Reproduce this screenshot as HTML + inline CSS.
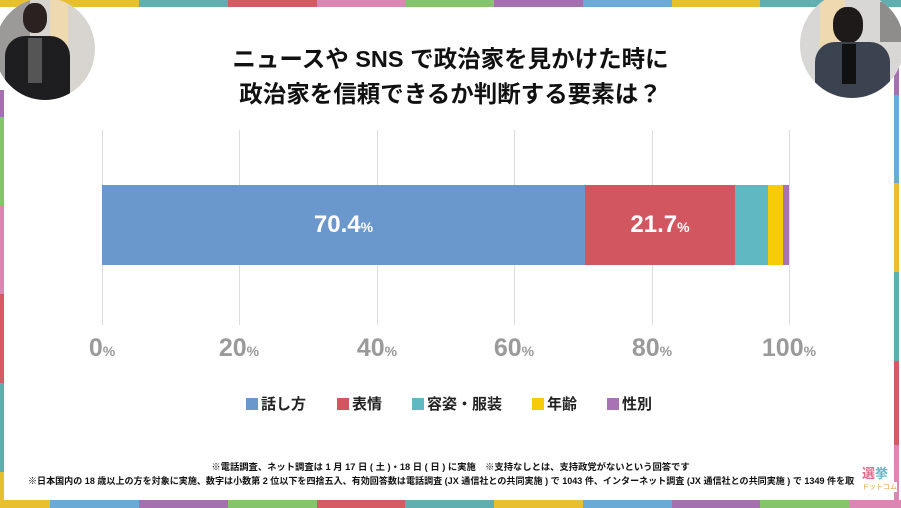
<!DOCTYPE html>
<html><head><meta charset="utf-8"><style>
*{margin:0;padding:0;box-sizing:border-box}
body{width:901px;height:508px;background:#fff;position:relative;overflow:hidden;font-family:"Liberation Sans","Noto Sans CJK JP",sans-serif}
.a{position:absolute}
.t{position:absolute;left:0;width:901px;text-align:center;font-weight:bold;color:#111}
.tick{position:absolute;top:334px;width:100px;margin-left:-50px;text-align:center;font-size:25px;font-weight:bold;color:#9a9a9a}
.tick small{font-size:14px}
.leg{position:absolute;top:393px;font-size:15px;font-weight:bold;color:#222;white-space:nowrap}
.leg i{display:inline-block;width:12px;height:12px;margin-right:3px;vertical-align:-1px}
</style></head><body>
<div class="a" style="top:0;left:0;width:139px;height:7px;background:#e8c02f"></div>
<div class="a" style="top:0;left:139px;width:89px;height:7px;background:#5fafb0"></div>
<div class="a" style="top:0;left:228px;width:89px;height:7px;background:#d65a64"></div>
<div class="a" style="top:0;left:317px;width:88px;height:7px;background:#dc86b4"></div>
<div class="a" style="top:0;left:405px;width:89px;height:7px;background:#86c46c"></div>
<div class="a" style="top:0;left:494px;width:89px;height:7px;background:#a56fb0"></div>
<div class="a" style="top:0;left:583px;width:89px;height:7px;background:#6aaad6"></div>
<div class="a" style="top:0;left:672px;width:88px;height:7px;background:#e8c02f"></div>
<div class="a" style="top:0;left:760px;width:141px;height:7px;background:#5fafb0"></div>
<div class="a" style="left:0;top:90px;width:4px;height:27px;background:#a56fb0"></div>
<div class="a" style="left:0;top:117px;width:4px;height:89px;background:#86c46c"></div>
<div class="a" style="left:0;top:206px;width:4px;height:88px;background:#dc86b4"></div>
<div class="a" style="left:0;top:294px;width:4px;height:89px;background:#d65a64"></div>
<div class="a" style="left:0;top:383px;width:4px;height:89px;background:#5fafb0"></div>
<div class="a" style="left:0;top:472px;width:4px;height:36px;background:#e8c02f"></div>
<div class="a" style="left:894px;top:60px;width:5px;height:35px;background:#a56fb0"></div>
<div class="a" style="left:894px;top:95px;width:5px;height:88px;background:#6aaad6"></div>
<div class="a" style="left:894px;top:183px;width:5px;height:89px;background:#e8c02f"></div>
<div class="a" style="left:894px;top:272px;width:5px;height:89px;background:#5fafb0"></div>
<div class="a" style="left:894px;top:361px;width:5px;height:84px;background:#d65a64"></div>
<div class="a" style="left:894px;top:445px;width:5px;height:55px;background:#dc86b4"></div>
<div class="a" style="top:500px;left:0;width:50px;height:8px;background:#e8c02f"></div>
<div class="a" style="top:500px;left:50px;width:89px;height:8px;background:#6aaad6"></div>
<div class="a" style="top:500px;left:139px;width:89px;height:8px;background:#a56fb0"></div>
<div class="a" style="top:500px;left:228px;width:89px;height:8px;background:#86c46c"></div>
<div class="a" style="top:500px;left:317px;width:88px;height:8px;background:#d65a64"></div>
<div class="a" style="top:500px;left:405px;width:89px;height:8px;background:#5fafb0"></div>
<div class="a" style="top:500px;left:494px;width:89px;height:8px;background:#e8c02f"></div>
<div class="a" style="top:500px;left:583px;width:89px;height:8px;background:#6aaad6"></div>
<div class="a" style="top:500px;left:672px;width:88px;height:8px;background:#a56fb0"></div>
<div class="a" style="top:500px;left:760px;width:89px;height:8px;background:#86c46c"></div>
<div class="a" style="top:500px;left:849px;width:52px;height:8px;background:#dc86b4"></div>
<div class="a" style="left:-5px;top:-2px;width:100px;height:102px;border-radius:50%;background:#d8d4cf;overflow:hidden">
 <div class="a" style="left:5px;top:0;width:30px;height:100px;background:#9c9a98"></div>
 <div class="a" style="left:55px;top:0;width:18px;height:50px;background:#efd9b0"></div>
 <div class="a" style="left:28px;top:5px;width:24px;height:30px;border-radius:45%;background:#2a2220"></div>
 <div class="a" style="left:10px;top:38px;width:65px;height:70px;border-radius:20px 20px 0 0;background:#1e1d1f"></div>
 <div class="a" style="left:33px;top:40px;width:14px;height:45px;background:#555"></div>
</div>
<div class="a" style="left:800px;top:-8px;width:104px;height:106px;border-radius:50%;background:#d9d7d5;overflow:hidden">
 <div class="a" style="left:20px;top:0;width:25px;height:60px;background:#efd9b0"></div>
 <div class="a" style="left:80px;top:10px;width:24px;height:40px;background:#8e8d8c"></div>
 <div class="a" style="left:33px;top:15px;width:30px;height:36px;border-radius:45%;background:#1e1a1a"></div>
 <div class="a" style="left:15px;top:50px;width:75px;height:60px;border-radius:20px 20px 0 0;background:#3c4350"></div>
 <div class="a" style="left:42px;top:52px;width:14px;height:40px;background:#111"></div>
</div>
<div class="t" style="top:44px;font-size:23.5px;line-height:30px">ニュースや SNS で政治家を見かけた時に</div>
<div class="t" style="top:79px;font-size:23.5px;line-height:30px">政治家を信頼できるか判断する要素は？</div>
<div class="a" style="left:102px;top:130px;width:1px;height:195px;background:#ddd"></div>
<div class="a" style="left:239px;top:130px;width:1px;height:195px;background:#ddd"></div>
<div class="a" style="left:377px;top:130px;width:1px;height:195px;background:#ddd"></div>
<div class="a" style="left:514px;top:130px;width:1px;height:195px;background:#ddd"></div>
<div class="a" style="left:652px;top:130px;width:1px;height:195px;background:#ddd"></div>
<div class="a" style="left:789px;top:130px;width:1px;height:195px;background:#ddd"></div>
<div class="a" style="left:102px;top:185px;width:483px;height:80px;background:#6b98cc;color:#fff;font-weight:bold;font-size:24px;text-align:center;line-height:80px">70.4<span style="font-size:14px">%</span></div>
<div class="a" style="left:585px;top:185px;width:150px;height:80px;background:#d1565f;color:#fff;font-weight:bold;font-size:24px;text-align:center;line-height:80px">21.7<span style="font-size:14px">%</span></div>
<div class="a" style="left:735px;top:185px;width:33px;height:80px;background:#5fb8c2"></div>
<div class="a" style="left:768px;top:185px;width:15px;height:80px;background:#f5cc07"></div>
<div class="a" style="left:783px;top:185px;width:6px;height:80px;background:#a872b4"></div>
<div class="tick" style="left:102px">0<small>%</small></div>
<div class="tick" style="left:239px">20<small>%</small></div>
<div class="tick" style="left:377px">40<small>%</small></div>
<div class="tick" style="left:514px">60<small>%</small></div>
<div class="tick" style="left:652px">80<small>%</small></div>
<div class="tick" style="left:789px">100<small>%</small></div>
<div class="leg" style="left:246px"><i style="background:#6b98cc"></i>話し方</div>
<div class="leg" style="left:337px"><i style="background:#d1565f"></i>表情</div>
<div class="leg" style="left:412px"><i style="background:#5fb8c2"></i>容姿・服装</div>
<div class="leg" style="left:532px"><i style="background:#f5cc07"></i>年齢</div>
<div class="leg" style="left:607px"><i style="background:#a872b4"></i>性別</div>
<div class="t" style="top:459px;font-size:9.3px;left:0px">※電話調査、ネット調査は 1 月 17 日 ( 土 )・18 日 ( 日 ) に実施　※支持なしとは、支持政党がないという回答です</div>
<div class="a" style="top:474px;left:28px;font-size:9.05px;font-weight:bold;color:#111;white-space:nowrap">※日本国内の 18 歳以上の方を対象に実施、数字は小数第 2 位以下を四捨五入、有効回答数は電話調査 (JX 通信社との共同実施 ) で 1043 件、インターネット調査 (JX 通信社との共同実施 ) で 1349 件を取</div>
<div class="a" style="top:467px;left:862px;font-size:13px;font-weight:bold;color:#e06a8a;line-height:13px;background:#fff">選<span style="color:#5fb8c2">挙</span></div>
<div class="a" style="top:482px;left:862px;font-size:7px;color:#e8a040;background:#fff">ドットコム</div>
</body></html>
